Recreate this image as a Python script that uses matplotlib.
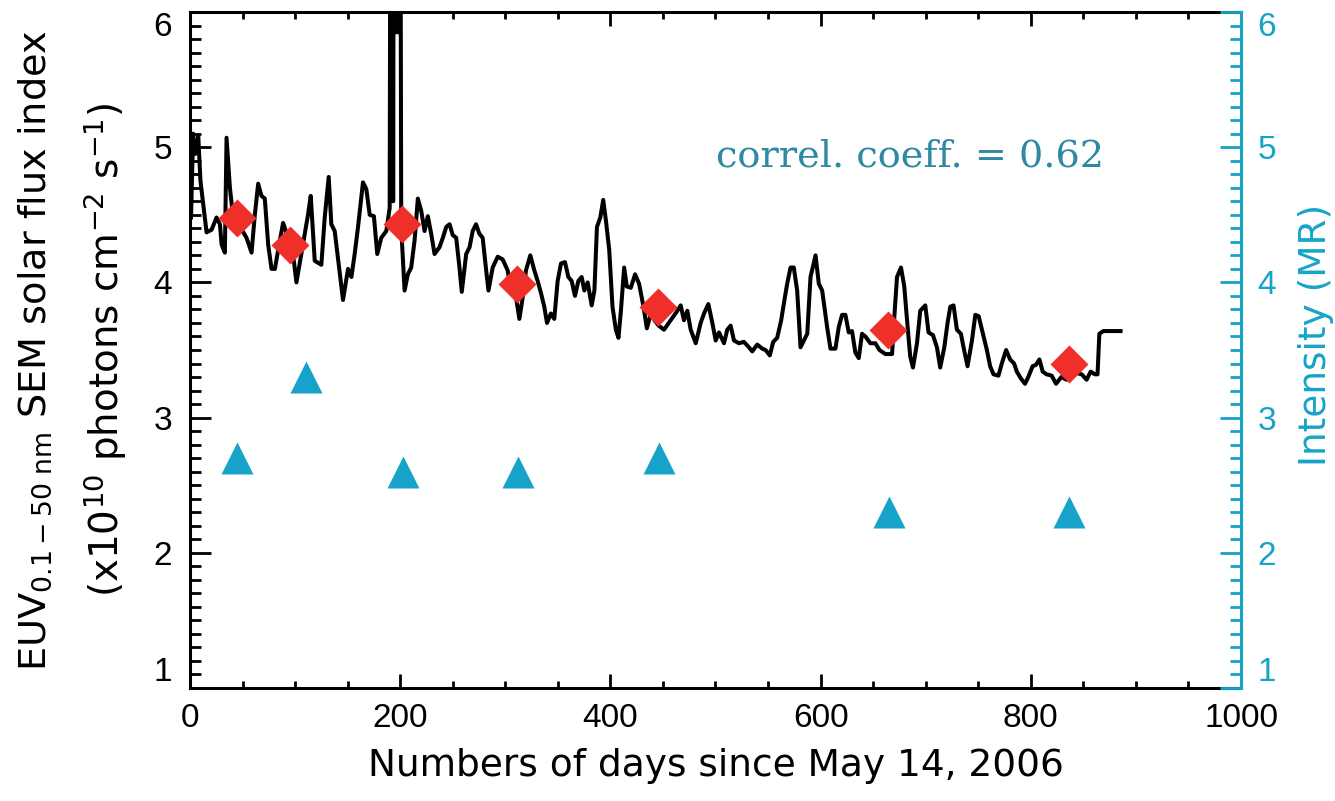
import matplotlib
matplotlib.use('Agg')
import matplotlib.pyplot as plt
from matplotlib.ticker import MultipleLocator

plt.rcParams['font.family'] = ['Liberation Sans', 'DejaVu Sans']
plt.rcParams['mathtext.fontset'] = 'custom'
plt.rcParams['mathtext.rm'] = 'DejaVu Sans'
plt.rcParams['mathtext.it'] = 'DejaVu Sans:italic'

# 1. data
# daily EUV flux index (traced)
days = [1, 3, 5, 7.9, 10, 15.8, 20.6, 25.3, 28.5, 30.1, 33.2, 34.8, 38, 41.1, 46, 50,
        53.8, 58.6, 61.7, 64.9, 68, 71.2, 74.4, 77.6, 80.8, 83.9, 88.6, 93.4, 98, 101.3,
        104.4, 109.2, 112.3, 114.9, 118.7, 125, 128.2, 132, 134.5, 137.7, 145.6, 150.4,
        153.6, 156.7, 159.9, 164.6, 167.8, 171, 175, 178.2, 182, 186.8, 190,
        191.2, 192.5, 193.3, 194.3, 195.2, 196.1, 197, 197.9, 198.8, 199.7, 201, 204.2,
        207.3, 210.5, 213.7, 216.8, 220, 223.2, 226.3, 229.5, 232.7, 237.4, 240.6, 243.8,
        247, 250, 253.3, 256.4, 258.6, 262.8, 266, 269, 272.2, 275.3, 278.5, 281.8, 284,
        288, 292.8, 297.5,
        302.2, 305.5, 310.2, 313.4, 316.6, 319.7, 323.8, 327.6, 330.8, 334, 337.1, 339.7,
        343.4, 346.6, 349.8, 353, 356.8, 360, 363.2, 366.3, 369.5, 372.7, 375.2, 378.4,
        382.2, 384.8, 387.2, 390.4, 393.2, 395.7, 398.9, 402, 405.2, 407.7, 410, 413.1,
        415.6, 419.4, 423.5, 427.3, 431.5, 434.7, 438.5, 442, 446,
        451, 457.4, 463.7, 466.9, 470, 473.2, 476.4, 481.2, 485.9, 489.1, 493.2, 497,
        500.2, 503.3, 508.1, 511.2, 514.4, 517.6, 522.3, 527, 531.8, 535, 539.7, 544.5,
        547.6, 551.7, 554.9, 558.7, 562.5, 565.6, 568.2, 571.4, 574.5, 577.7, 580.9,
        584.1, 587.3, 590.4, 595.2, 598.3, 601.5,
        606.2, 609.4, 614.1, 617.3, 620.4, 623.6, 626.8, 629.9, 633.1, 636.3, 639.4,
        642.6, 647.3, 652.1, 656, 661.6, 668, 669.5, 672.7, 676.5, 679.6, 682.8, 685.3,
        687.9, 691.7, 694.8, 699.6, 702.7, 706.9, 710.7, 713.8, 717.7, 720.8, 723.4,
        726.5, 729.7, 733.5, 736, 739.8, 744, 747.2, 750.4, 754.5,
        758.2, 761.3, 764.5, 769.2, 772.4, 776.5, 780.3, 784.1, 786.7, 790.5, 794.5,
        797.6, 801.7, 804.9, 808.2, 811.3, 815.1, 819.9, 824, 829, 834, 839, 843.6,
        848.4, 853.1, 856.9, 861, 863.5, 865.2, 869, 885.4]
euv = [4.48, 5.10, 4.95, 5.08, 4.75, 4.37, 4.39, 4.48, 4.43, 4.28, 4.22, 5.07, 4.70, 4.48, 4.42, 4.38,
       4.33, 4.22, 4.50, 4.73, 4.64, 4.62, 4.28, 4.10, 4.10, 4.24, 4.44, 4.33, 4.21, 4.00,
       4.14, 4.36, 4.50, 4.64, 4.16, 4.13, 4.48, 4.78, 4.43, 4.38, 3.87, 4.10,
       4.04, 4.21, 4.41, 4.74, 4.69, 4.50, 4.49, 4.21, 4.33, 4.38, 4.55,
       9.0, 9.0, 4.60, 9.0, 5.85, 9.0, 5.85, 9.0, 5.85, 9.0, 4.40, 3.94,
       4.06, 4.11, 4.31, 4.62, 4.53, 4.38, 4.49, 4.36, 4.21, 4.26, 4.33, 4.41,
       4.43, 4.35, 4.33, 4.11, 3.93, 4.21, 4.26, 4.38, 4.43, 4.36, 4.33, 4.09, 3.94,
       4.11, 4.19, 4.17,
       4.09, 3.94, 3.89, 3.73, 3.89, 4.09, 4.20, 4.09, 4.01, 3.92, 3.82, 3.70,
       3.77, 3.73, 4.01, 4.14, 4.15, 4.04, 4.01, 3.90, 4.01, 4.04, 3.94, 4.00,
       3.83, 3.94, 4.41, 4.48, 4.61, 4.46, 4.24, 3.82, 3.65, 3.59, 3.79, 4.11,
       3.97, 3.96, 4.06, 3.99, 3.82, 3.66, 3.77, 3.72, 3.68,
       3.65, 3.72, 3.79, 3.83, 3.72, 3.79, 3.65, 3.55, 3.70, 3.77, 3.84, 3.70,
       3.57, 3.63, 3.55, 3.65, 3.68, 3.57, 3.55, 3.56, 3.52, 3.49, 3.54, 3.51,
       3.50, 3.46, 3.56, 3.59, 3.72, 3.87, 3.99, 4.11, 4.11, 3.94, 3.52,
       3.57, 3.62, 4.04, 4.20, 3.99, 3.94,
       3.67, 3.51, 3.51, 3.67, 3.76, 3.76, 3.63, 3.64, 3.48, 3.44, 3.62,
       3.60, 3.55, 3.55, 3.50, 3.47, 3.47, 3.67, 4.04, 4.11, 3.97, 3.67, 3.45,
       3.37, 3.55, 3.79, 3.83, 3.63, 3.61, 3.52, 3.37, 3.52, 3.70, 3.82,
       3.83, 3.65, 3.62, 3.52, 3.38, 3.57, 3.76, 3.75, 3.62,
       3.50, 3.38, 3.32, 3.31, 3.40, 3.50, 3.43, 3.40, 3.34, 3.29, 3.25,
       3.30, 3.38, 3.39, 3.43, 3.34, 3.32, 3.31, 3.25, 3.30, 3.28, 3.31, 3.33,
       3.32, 3.28, 3.34, 3.32, 3.32, 3.62, 3.64, 3.64]

# EUV averaged at the observation dates (red diamonds)
obs_days = [45, 95, 202, 311, 445, 664, 836]
obs_euv = [4.48, 4.28, 4.43, 3.99, 3.82, 3.65, 3.40]

# emission intensity in MR (cyan triangles, right axis)
int_days = [45, 110, 203, 312, 446, 665, 836]
intensity = [2.7, 3.3, 2.6, 2.6, 2.7, 2.3, 2.3]

cyan = '#17a3c9'
red = '#ee2f2a'

# 2. figure and axes
fig = plt.figure(figsize=(13.35, 8.01), dpi=100)
ax = fig.add_axes([0.1423, 0.1411, 0.7873, 0.8439])
ax2 = ax.twinx()

ax.plot(days, euv, color='black', lw=2.9, zorder=2)
ax.plot(obs_days, obs_euv, 'D', color=red, ms=19, mec='none', zorder=3)
ax2.plot(int_days, intensity, '^', color=cyan, ms=23, mec='none')

ax.set_xlim(0, 1000)
ax.set_ylim(1, 6)
ax2.set_ylim(1, 6)

# 3. ticks, spines
ax.xaxis.set_major_locator(MultipleLocator(200))
ax.xaxis.set_minor_locator(MultipleLocator(50))
ax.set_yticks([1, 2, 3, 4, 5, 6])
ax.yaxis.set_minor_locator(MultipleLocator(0.1))
ax2.set_yticks([1, 2, 3, 4, 5, 6])
ax2.yaxis.set_minor_locator(MultipleLocator(0.1))

ax.tick_params(axis='x', which='both', direction='in', top=True, width=2, labelsize=24, pad=11)
ax.tick_params(axis='x', which='major', length=10)
ax.tick_params(axis='x', which='minor', length=5)
ax.tick_params(axis='y', which='both', direction='in', right=False, width=2, labelsize=24, pad=13)
ax.tick_params(axis='y', which='major', length=15)
ax.tick_params(axis='y', which='minor', length=8)
ax2.tick_params(axis='y', which='both', direction='in', width=2, colors=cyan, labelsize=24, pad=12)
ax2.tick_params(axis='y', which='major', length=15)
ax2.tick_params(axis='y', which='minor', length=8)

# end labels sit inside the axis range, as in the original
for a in (ax, ax2):
    ticks = a.yaxis.get_major_ticks()
    ticks[0].label1.set_va('bottom')
    ticks[0].label2.set_va('bottom')
    ticks[-1].label1.set_va('top')
    ticks[-1].label2.set_va('top')

for s in ['left', 'bottom', 'top']:
    ax.spines[s].set_linewidth(2.2)
ax.spines['right'].set_visible(False)
for s in ['left', 'bottom', 'top']:
    ax2.spines[s].set_visible(False)
ax2.spines['right'].set_color(cyan)
ax2.spines['right'].set_linewidth(2.2)

# 4. labels
ax.set_xlabel('Numbers of days since May 14, 2006', fontsize=27, labelpad=10,
              family='DejaVu Sans')
fig.text(0.026, 0.562, r'EUV$_{\mathrm{0.1-50\ nm}}$ SEM solar flux index',
         rotation=90, ha='center', va='center', fontsize=27.5, family='DejaVu Sans')
fig.text(0.0787, 0.563, r'(x10$^{\mathrm{10}}$ photons cm$^{\mathrm{-2}}$ s$^{\mathrm{-1}}$)',
         rotation=90, ha='center', va='center', fontsize=28, family='DejaVu Sans')
fig.text(0.9855, 0.582, 'Intensity (MR)', rotation=90, ha='center', va='center',
         fontsize=27, color=cyan, family='DejaVu Sans')

ax.text(0.685, 0.786, 'correl. coeff. = 0.62', transform=ax.transAxes,
        ha='center', va='center', fontsize=27.5, color='#2e89a4', family='DejaVu Serif')

fig.savefig('out.png', dpi=100)
